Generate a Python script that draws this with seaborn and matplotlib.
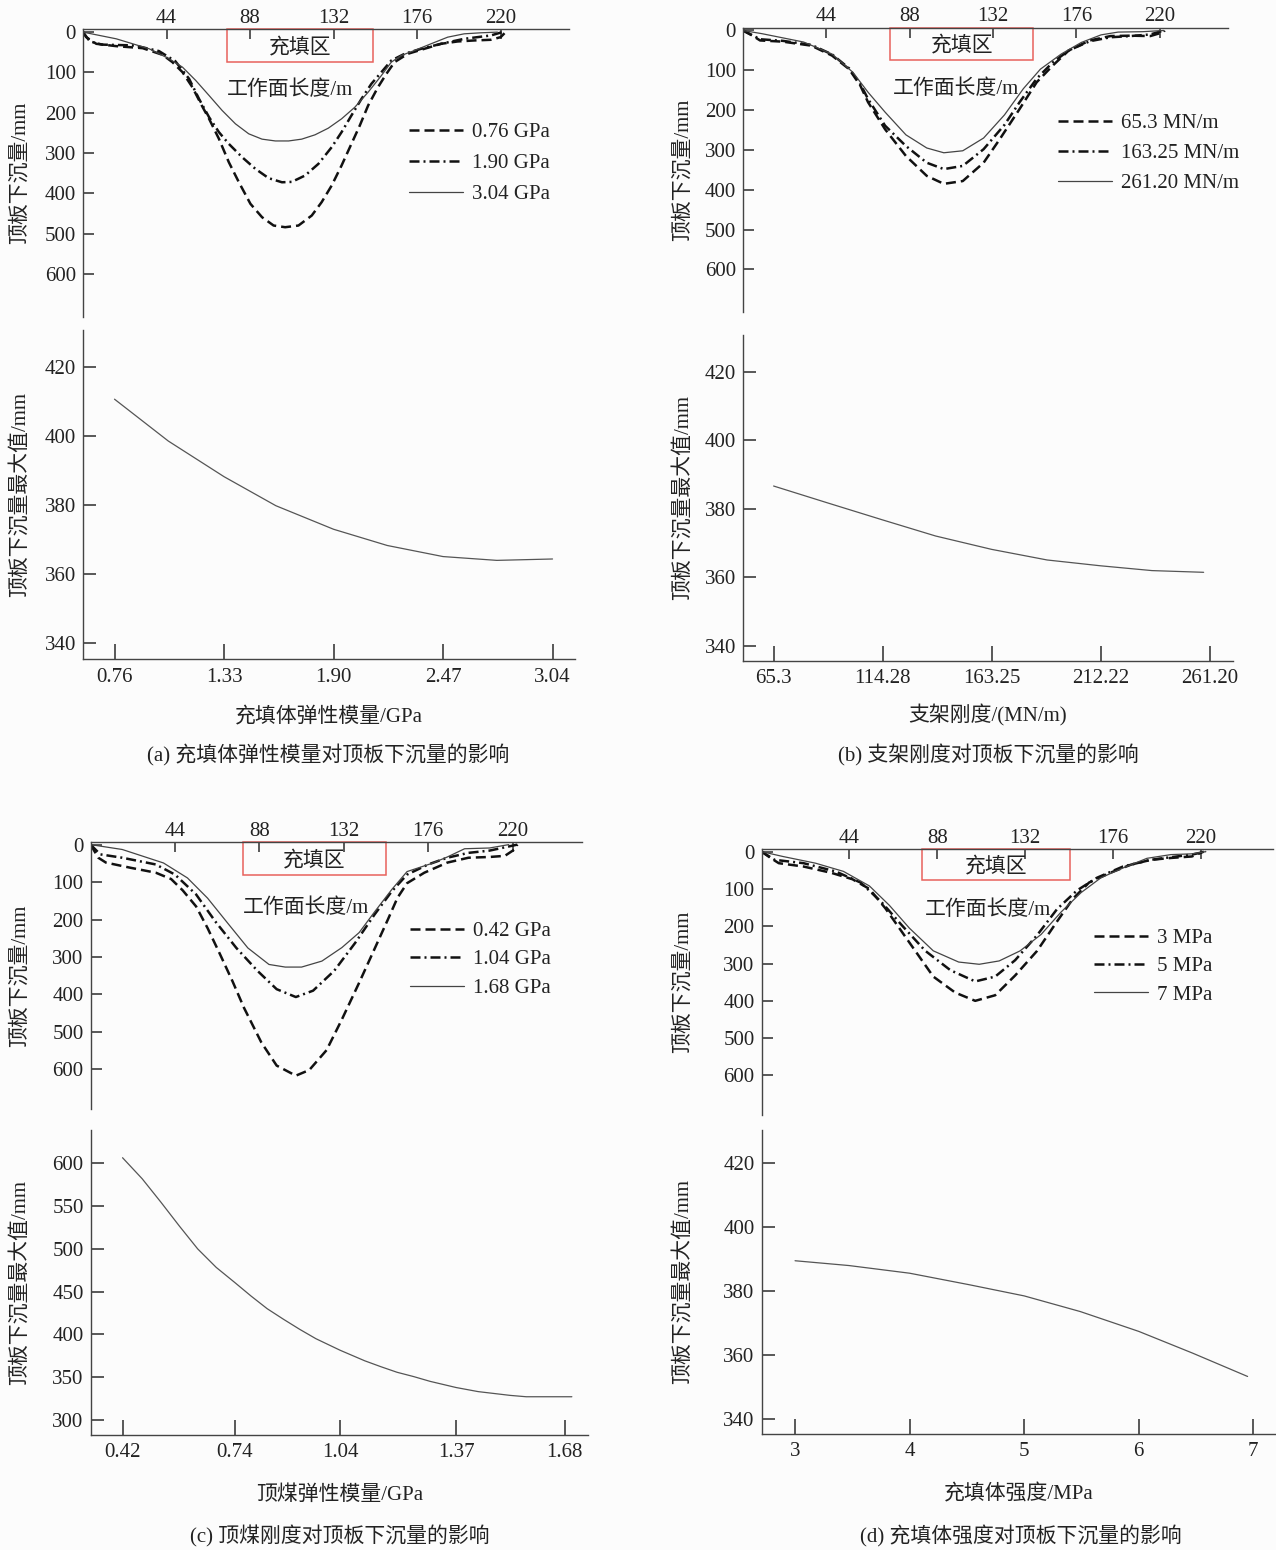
import matplotlib
matplotlib.use("Agg")
import matplotlib.pyplot as plt
import seaborn as sns
from matplotlib.patches import Rectangle

sns.set_theme(style="white")
plt.rcParams['font.family'] = ['Liberation Serif', 'Noto Sans CJK SC']
plt.rcParams['axes.unicode_minus'] = False

# ---- (a) filling body elastic modulus ----
a_labels = ["0.76 GPa", "1.90 GPa", "3.04 GPa"]
a_x1 = [0, 1.7, 7.0, 17.5, 31.4, 41.9, 47.1, 52.4, 57.6, 62.9, 66.4, 71.6, 76.8, 82.1, 88.2, 94.3, 100.4, 106.5,
        113.5, 120.5, 125.7, 131.0, 136.2, 141.4, 145.8, 150.2, 155.4, 159.8, 164.1, 171.1, 179.8, 188.6, 197.3,
        206, 214.8, 220, 222.6]
a_y1 = [0, 12.5, 29, 34.8, 39.8, 56.3, 74.5, 99.3, 136.5, 185, 215, 264.7, 322.6, 372.3, 426, 459.1, 479.8, 484,
        479.8, 455, 421.9, 380.5, 330.9, 277.1, 231.7, 182, 136.5, 103.5, 74.5, 53.8, 41.4, 29, 23.2,
        20.7, 19, 12.5, 0]
a_x2 = [0, 3.6, 10, 27, 40, 48.6, 55.9, 61.1, 66.4, 71.6, 76.8, 83.8, 90.8, 97.8, 104.8, 110, 117, 124, 131,
        136.2, 141.4, 146.7, 151.9, 157.2, 162.4, 169.4, 178.1, 188.6, 200.8, 214.8, 220.9]
a_y2 = [0, 23, 31, 33, 47, 72, 115.9, 165.5, 211, 248.2, 277.2, 310.2, 339.2, 362.3, 372.5, 371.5, 355.7, 326.8, 285.4,
        248.2, 206.8, 165.5, 128.3, 99.3, 70.4, 53.8, 41.4, 29, 16.6, 8.3, 0]
a_x3 = [0, 17.5, 34.9, 45.4, 52.4, 59.4, 66.4, 73.3, 80.3, 87.3, 94.3, 101.3, 108.3, 115.2, 122.2, 129.2, 136.2,
        143.2, 150.2, 157.2, 162.4, 167.6, 174.6, 183.3, 192.1, 200.8, 209.5, 218.3]
a_y3 = [0, 16.6, 41.4, 66.2, 86.9, 120, 157.2, 194.4, 227.5, 252.3, 265.5, 270, 270, 265.5, 254.8, 238.3, 215.1,
        186.2, 149, 107.6, 74.5, 58, 45.6, 29, 12.5, 4.2, 1.7, 0]
a_param = [0.76, 1.04, 1.33, 1.60, 1.90, 2.18, 2.47, 2.75, 3.04]
a_max = [410.6, 398.5, 388.2, 379.8, 373.0, 368.3, 365.1, 364.0, 364.4]
a_ticks = [0.76, 1.33, 1.90, 2.47, 3.04]
a_ticklabels = ["0.76", "1.33", "1.90", "2.47", "3.04"]

# ---- (b) support stiffness ----
b_labels = ["65.3 MN/m", "163.25 MN/m", "261.20 MN/m"]
b_x1 = [0, 5, 9, 21, 36, 47, 56, 62, 66, 75, 86, 97, 106, 116, 127, 135.5, 146, 155, 163.5, 172, 183, 194, 204.5, 215, 222, 222.5]
b_y1 = [0, 13, 25, 28, 38, 63, 97, 139, 180, 248, 315, 365, 385, 378, 332, 273, 197, 130, 88, 50, 25, 14, 13, 14, 4, 0]
b_x2 = [0, 5, 9, 21, 36, 47, 56, 62, 66, 75, 86, 97, 106, 116, 127, 138, 146, 155, 163.5, 172, 183, 194, 204.5, 215, 222]
b_y2 = [0, 12, 22, 26, 36, 60, 95, 135, 172, 239, 290, 332, 348, 340, 298, 237, 180, 121, 80, 50, 27, 17, 14, 10, 0]
b_x3 = [0, 10, 32, 47, 58, 66, 75, 86, 97, 106, 116, 127, 138, 148, 157, 168, 178.6, 189, 198, 211, 222]
b_y3 = [0, 8, 29, 59, 105, 155, 205, 262, 295, 307, 302, 270, 212, 146, 97, 59, 30, 11, 4, 3, 0]
b_param = [65.3, 89.9, 114.28, 138.1, 163.25, 188.2, 212.22, 235.3, 258.5]
b_max = [386.6, 381.6, 376.7, 372.0, 368.1, 365.0, 363.3, 361.9, 361.4]
b_ticks = [65.3, 114.28, 163.25, 212.22, 261.20]
b_ticklabels = ["65.3", "114.28", "163.25", "212.22", "261.20"]

# ---- (c) top coal elastic modulus ----
c_labels = ["0.42 GPa", "1.04 GPa", "1.68 GPa"]
c_x1 = [0, 4, 8, 21, 34, 42, 48, 55, 61, 67.5, 74, 80, 89, 97, 107, 114, 123, 131, 140, 148, 155, 160, 165, 174, 186, 197, 208, 216, 221, 222.5]
c_y1 = [0, 35, 48, 62, 75, 92, 122, 165, 223, 293, 365, 436, 528, 590, 617, 602, 549, 467, 369, 279, 200, 142, 103, 75, 48, 35, 33, 30, 13, 0]
c_x2 = [0, 5, 16.5, 34, 44, 55, 65, 76, 87, 97, 107, 116, 127, 138, 148, 157, 165, 176, 186, 197, 208, 218, 222.5]
c_y2 = [0, 26, 35, 53, 80, 133, 205, 276, 337, 386, 407, 390, 337, 262, 187, 125, 80, 53, 35, 22, 16, 5, 0]
c_x3 = [0, 16.5, 38, 50.5, 61, 72, 82, 93, 101.5, 110, 120.6, 131, 140, 148, 157, 165, 178, 186, 195, 208, 218]
c_y3 = [0, 13, 49, 89, 143, 213, 276, 320, 327, 327, 311, 275, 235, 180, 120, 72, 50, 33, 11, 9, 0]
c_param = [0.42, 0.476, 0.529, 0.582, 0.634, 0.687, 0.74, 0.786, 0.832, 0.879, 0.925, 0.971, 1.04, 1.110,
           1.156, 1.202, 1.249, 1.296, 1.37, 1.433, 1.524, 1.570, 1.70]
c_max = [606.5, 581.9, 554.7, 526.6, 500.0, 478.3, 460.6, 444.9, 430.1, 417.6, 405.9, 395.0, 381.5, 369.2,
         362.3, 355.8, 350.8, 345.2, 338.0, 333.2, 328.8, 327.2, 327.2]
c_ticks = [0.42, 0.74, 1.04, 1.37, 1.68]
c_ticklabels = ["0.42", "0.74", "1.04", "1.37", "1.68"]

# ---- (d) filling body strength ----
d_labels = ["3 MPa", "5 MPa", "7 MPa"]
d_x1 = [0, 4.5, 8.6, 21, 35, 45.5, 54, 62, 70, 78, 86, 97, 107, 117, 127, 138, 148, 156, 164, 174.5, 185, 195, 205, 215.5, 221.5]
d_y1 = [0, 17, 31, 40, 57, 74, 100, 152, 213, 274, 335, 378, 400, 385, 332, 266, 187, 126, 83, 57, 35, 22, 17, 13, 0]
d_x2 = [0, 6.5, 21, 37, 49.6, 60, 70, 82, 94.6, 107, 117, 127, 138, 148, 158, 168, 181, 195, 205, 215.5, 222.5]
d_y2 = [0, 22, 31, 53, 83, 135, 196, 266, 318, 348, 335, 291, 224, 154, 104, 70, 40, 22, 15, 8, 0]
d_x3 = [0, 10.6, 27, 41, 54, 64, 74, 86, 98.7, 109, 119, 129.5, 140, 150, 160, 170, 181, 193, 205, 215.5, 222.5]
d_y3 = [0, 13, 31, 53, 92, 144, 205, 266, 296, 302, 293, 266, 222, 162, 110, 70, 44, 18, 8, 6, 0]
d_param = [3.0, 3.47, 4.0, 4.52, 5.0, 5.49, 6.0, 6.47, 6.95]
d_max = [389.5, 388.0, 385.6, 382.0, 378.5, 373.6, 367.4, 360.6, 353.3]
d_ticks = [3, 4, 5, 6, 7]
d_ticklabels = ["3", "4", "5", "6", "7"]

face_ticks = [44, 88, 132, 176, 220]
subs_ticks = [0, 100, 200, 300, 400, 500, 600]

FS = 15
TXT = "#222222"
SPINE = "#444444"
W, H = 1276, 1550


def rect_px(left, top, right, bottom):
    return [left / W, 1 - bottom / H, (right - left) / W, (bottom - top) / H]


fig = plt.figure(figsize=(12.76, 15.5), dpi=100)
fig.patch.set_facecolor("#fcfcfc")

styles = [(0, (4, 2)), (0, (4, 1.6, 0.8, 1.6)), "-"]
widths = [1.8, 1.8, 0.9]
colors = ["#111111", "#111111", "#444444"]


def style_axes(ax, hide):
    ax.set_facecolor("#fcfcfc")
    for s in ["top", "bottom", "left", "right"]:
        ax.spines[s].set_color(SPINE)
        ax.spines[s].set_linewidth(1.0)
    for s in hide:
        ax.spines[s].set_visible(False)


def top_panel(rect, xs, ys, labels, box, note_xy, leg_xy, leg_sp, ylab_x):
    ax = fig.add_axes(rect)
    style_axes(ax, ["bottom", "right"])
    for x, y, lab, ls, lw, col in zip(xs, ys, labels, styles, widths, colors):
        sns.lineplot(x=x, y=y, ax=ax, color=col, linestyle=ls, linewidth=lw,
                     label=lab, sort=False, estimator=None)
    ax.set_xlim(0, 256)
    ax.set_ylim(706, -7)
    ax.xaxis.tick_top()
    ax.set_xticks(face_ticks)
    ax.set_yticks(subs_ticks)
    ax.tick_params(axis="x", direction="in", length=7, pad=1, labelsize=FS,
                   colors=SPINE, labelcolor=TXT, top=True, bottom=False)
    ax.tick_params(axis="y", direction="in", length=8, pad=5, labelsize=FS,
                   colors=SPINE, labelcolor=TXT, left=True)
    ax.set_xlabel("")
    ax.set_ylabel("顶板下沉量/mm", fontsize=FS, color=TXT, va="center")
    ax.yaxis.set_label_coords(ylab_x, 0.5)
    x0, x1, ybot = box
    ax.add_patch(Rectangle((x0, -7), x1 - x0, ybot + 7, fill=False,
                           edgecolor="#e8625c", linewidth=1.1, clip_on=False))
    ax.text((x0 + x1) / 2, (ybot - 7) / 2 + 5, "充填区", ha="center", va="center",
            fontsize=FS, color=TXT)
    ax.text(note_xy[0], note_xy[1], "工作面长度/m", ha="center", va="center",
            fontsize=FS, color=TXT)
    leg = ax.legend(loc="upper left", bbox_to_anchor=leg_xy, frameon=False,
                    fontsize=FS, handlelength=2.6, handletextpad=0.4,
                    labelspacing=leg_sp, borderpad=0, borderaxespad=0)
    for t in leg.get_texts():
        t.set_color(TXT)
    return ax


def bottom_panel(rect, x, y, xlim, ylim, xticks, xticklabels, yticks, xlabel,
                 xlab_y, ylab_x):
    ax = fig.add_axes(rect)
    style_axes(ax, ["top", "right"])
    sns.lineplot(x=x, y=y, ax=ax, color="#555555", linewidth=0.9,
                 sort=False, estimator=None)
    ax.set_xlim(*xlim)
    ax.set_ylim(*ylim)
    ax.set_xticks(xticks)
    ax.set_xticklabels(xticklabels)
    ax.set_yticks(yticks)
    ax.tick_params(axis="x", direction="in", length=11, pad=6, labelsize=FS,
                   colors=SPINE, labelcolor=TXT, bottom=True)
    ax.tick_params(axis="y", direction="in", length=9, pad=5, labelsize=FS,
                   colors=SPINE, labelcolor=TXT, left=True)
    ax.set_xlabel(xlabel, fontsize=FS, color=TXT, va="center")
    ax.xaxis.set_label_coords(0.5, xlab_y)
    ax.set_ylabel("顶板下沉量最大值/mm", fontsize=FS, color=TXT, va="center")
    ax.yaxis.set_label_coords(ylab_x, 0.5)
    return ax


# (a)
top_panel(rect_px(83, 29.3, 569, 316.7), [a_x1, a_x2, a_x3], [a_y1, a_y2, a_y3],
          a_labels, (75.8, 152.5, 74.4), (109, 145), (0.671, 0.676), 0.55, -0.129)
bottom_panel(rect_px(83, 330, 575, 659.3), a_param, a_max, (0.596, 3.157),
             (335.4, 430.6), a_ticks, a_ticklabels, [340, 360, 380, 400, 420],
             "充填体弹性模量/GPa", -0.174, -0.129)

# (b)
top_panel(rect_px(743, 27.7, 1228, 311.7), [b_x1, b_x2, b_x3], [b_y1, b_y2, b_y3],
          b_labels, (77.6, 153.3, 73.2), (112.6, 147), (0.650, 0.697), 0.5, -0.124)
bottom_panel(rect_px(743, 335, 1233, 661), b_param, b_max, (51.55, 271.7),
             (335.5, 430.7), b_ticks, b_ticklabels, [340, 360, 380, 400, 420],
             "支架刚度/(MN/m)", -0.166, -0.123)

# (c)
top_panel(rect_px(90.6, 842, 581.6, 1109), [c_x1, c_x2, c_x3], [c_y1, c_y2, c_y3],
          c_labels, (79.2, 154, 80.4), (112.4, 170.6), (0.651, 0.702), 0.42, -0.143)
bottom_panel(rect_px(90.6, 1130, 588, 1435), c_param, c_max, (0.329, 1.746),
             (282.5, 638.9), c_ticks, c_ticklabels, [300, 350, 400, 450, 500, 550, 600],
             "顶煤弹性模量/GPa", -0.197, -0.143)

# (d)
top_panel(rect_px(761.6, 849, 1272.7, 1115), [d_x1, d_x2, d_x3], [d_y1, d_y2, d_y3],
          d_labels, (80.3, 154.4, 76.9), (113.3, 156.7), (0.651, 0.702), 0.42, -0.154)
bottom_panel(rect_px(761.6, 1130, 1276, 1434), d_param, d_max, (2.708, 7.198),
             (335.3, 430.4), d_ticks, d_ticklabels, [340, 360, 380, 400, 420],
             "充填体强度/MPa", -0.2, -0.153)

captions = [
    (328.6, 755, "(a) 充填体弹性模量对顶板下沉量的影响"),
    (988, 755, "(b) 支架刚度对顶板下沉量的影响"),
    (340, 1536.7, "(c) 顶煤刚度对顶板下沉量的影响"),
    (1021, 1536.7, "(d) 充填体强度对顶板下沉量的影响"),
]
for cx, cy, txt in captions:
    fig.text(cx / W, 1 - cy / H, txt, ha="center", va="center", fontsize=FS, color=TXT)

fig.savefig("out.png", dpi=100, facecolor=fig.get_facecolor())
